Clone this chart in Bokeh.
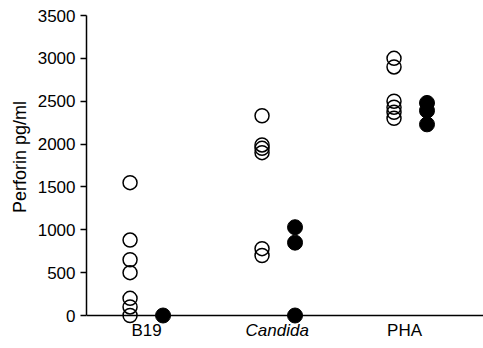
from bokeh.plotting import figure
from bokeh.models import FixedTicker, Range1d, Segment, ColumnDataSource
from bokeh.core.properties import value
from bokeh.embed import file_html
from bokeh.resources import INLINE

# Stimuli along the x axis
categories = ["B19", "Candida", "PHA"]
category_styles = ["normal", "italic", "normal"]

# Perforin (pg/ml), open circles: one list per stimulus
open_values = [
    [0, 100, 200, 500, 650, 880, 1550],
    [700, 780, 1900, 1950, 1990, 2330],
    [2300, 2370, 2430, 2500, 2900, 3000],
]
# Perforin (pg/ml), filled circles
filled_values = [
    [0],
    [0, 850, 1030],
    [2230, 2390, 2480],
]

y_ticks = [0, 500, 1000, 1500, 2000, 2500, 3000, 3500]

FONT = "Liberation Sans"
OFFSET = 0.125
LABEL_SHIFT = [0.0, -0.01, -0.045]  # small nudges of the category names
Y_MIN = -385      # room below zero for the category names
LABEL_Y = -175    # vertical position of the category names

p = figure(width=483, height=348, output_backend="svg", toolbar_location=None,
           x_range=Range1d(0.545, 3.553), y_range=Range1d(Y_MIN, 3500),
           min_border_left=86, min_border_right=0, min_border_top=15,
           min_border_bottom=0)
p.outline_line_color = None
p.grid.visible = False
p.background_fill_color = "white"
p.border_fill_color = "white"
p.xaxis.visible = False

yax = p.yaxis[0]
yax.ticker = FixedTicker(ticks=y_ticks)
yax.bounds = (0, 3500)
# leading no-break spaces lift the title to the middle of the 0-3500 span
yax.axis_label = "\u00a0" * 10 + "Perforin pg/ml"
yax.axis_label_text_font = FONT
yax.axis_label_text_font_style = "normal"
yax.axis_label_text_font_size = "18px"
yax.axis_label_text_color = "black"
yax.axis_label_standoff = 5
yax.major_label_text_font = FONT
yax.major_label_text_font_size = "17px"
yax.major_label_text_color = "black"
yax.major_label_standoff = 5
yax.axis_line_color = "black"
yax.axis_line_width = 1.5
yax.major_tick_line_color = "black"
yax.major_tick_line_width = 1.5
yax.major_tick_out = 6
yax.major_tick_in = 0
yax.minor_tick_line_color = None

# baseline at zero, across the whole plotting width
base = ColumnDataSource(dict(x0=[p.x_range.start], x1=[p.x_range.end], y0=[0], y1=[0]))
p.add_glyph(base, Segment(x0="x0", y0="y0", x1="x1", y1="y1",
                          line_color="black", line_width=1.5))

for i, (cat, style) in enumerate(zip(categories, category_styles)):
    pos = i + 1
    ov = open_values[i]
    fv = filled_values[i]
    p.scatter([pos - OFFSET] * len(ov), ov, size=14, marker="circle",
              fill_color=None, line_color="black", line_width=1.5)
    p.scatter([pos + OFFSET] * len(fv), fv, size=15, marker="circle",
              fill_color="black", line_color="black", line_width=1)
    p.text(x=[pos + LABEL_SHIFT[i]], y=[LABEL_Y], text=[cat], text_align="center",
           text_baseline="middle", text_font=value(FONT),
           text_font_size="17px", text_font_style=style, text_color="black")

open("out.html", "w").write(file_html(p, INLINE))
